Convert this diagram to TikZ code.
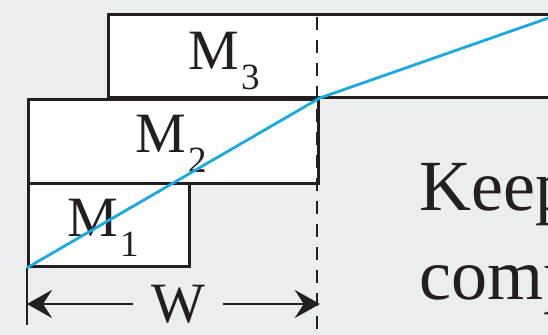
\documentclass[tikz,border=0pt]{standalone}
\usepackage{fontspec}
\setmainfont{Liberation Serif}
\usetikzlibrary{arrows.meta, positioning}
\definecolor{bggray}{HTML}{ECEDEF}
\definecolor{inkblack}{HTML}{231F20}
\definecolor{curveblue}{HTML}{1AA9E1}
\newcommand{\msub}[1]{\kern1pt\raisebox{-10pt}{\fontsize{18.5}{18.5}\selectfont #1}}

\begin{document}
\begin{tikzpicture}[x=0.5pt, y=-0.5pt,
      block/.style={draw=inkblack, line width=1.4pt, fill=white, rectangle,
                    anchor=north west, inner sep=0pt},
      mlabel/.style={font=\fontsize{28.5}{30}\selectfont, text=inkblack,
                     inner sep=0pt, anchor=base west},
      txt/.style={font=\fontsize{36}{45}\selectfont, text=inkblack,
                  inner sep=0pt, anchor=base west},
      guide/.style={draw=inkblack, line width=1.2pt, dash pattern=on 6.5pt off 5pt},
      edge/.style={draw=inkblack, line width=1.4pt},
      dimarrow/.style={-{Stealth[length=12.5pt, width=14pt, inset=4.5pt]},
                       draw=inkblack, line width=1.4pt},
      curve/.style={draw=curveblue, line width=1.4pt}
    ]
    \fill[bggray] (0,0) rectangle (548,335);
    \useasboundingbox (0,0) rectangle (548,335);

    \node[block, minimum width=226.5pt, minimum height=41.5pt] (m3) at (107,13) {};
    \node[block, minimum width=145pt, minimum height=42pt] (m2) at (27,98) {};
    \node[block, minimum width=80.5pt, minimum height=41.5pt] (m1) at (27,182) {};

    \node[mlabel] (l3) at (188,70) {M\msub{3}};
    \node[mlabel] (l2) at (135,153) {M\msub{2}};
    \node[mlabel] (l1) at (67,237) {M\msub{1}};

    \coordinate (wbase) at (27,325);
    \coordinate (dtop) at (317,17);
    \coordinate (dbot) at (317,340);
    \coordinate (cend) at (560,14);

    \draw[edge] (m1.south west) -- (wbase);
    \draw[guide] (dtop) -- (dbot);

    \node[font=\fontsize{28.5}{30}\selectfont, text=inkblack,
          inner xsep=9pt, inner ysep=0pt] (w) at (178,304) {W};
    \draw[dimarrow] (w.west) -- (w.west -| m1.south west);
    \draw[dimarrow] (w.east) -- (w.east -| m2.south east);

    \draw[curve] (m1.south west) -- (m2.north east) -- (cend);

    \node[txt] (keep) at (419,211) {Keep};
    \node[txt] (comp) at (419,300) {comp};
  \end{tikzpicture}
\end{document}
